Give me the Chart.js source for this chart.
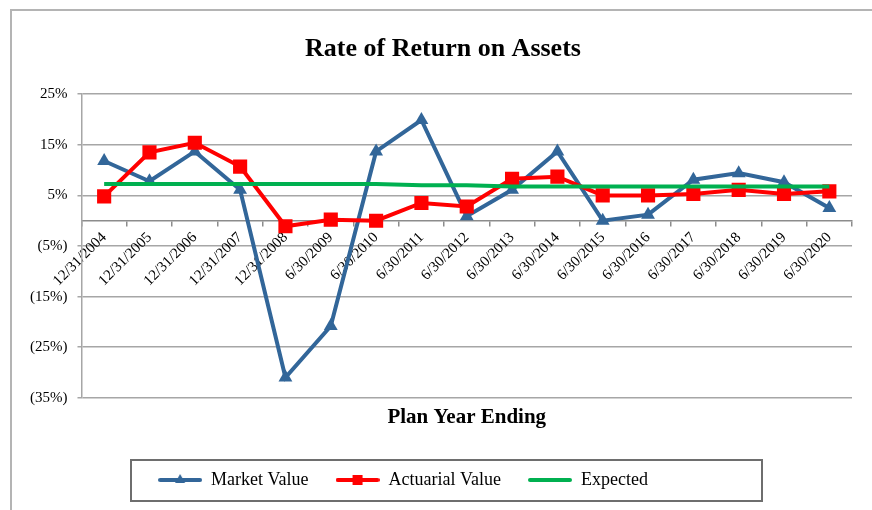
<!DOCTYPE html>
<html>
<head>
<meta charset="utf-8">
<title>Rate of Return on Assets</title>
<script src="https://cdn.jsdelivr.net/npm/chart.js@4/dist/chart.umd.min.js"></script>
<style>
    body { margin: 0; background: #fff; }
    #wrap { position: relative; width: 872px; height: 510px; }
    #frame {
        position: absolute; left: 10px; top: 9px; right: 0; bottom: 0;
        border-left: 2px solid #b4b4b4; border-top: 2px solid #b4b4b4;
    }
    #chart { position: absolute; left: 0; top: 0; }
</style>
</head>
<body>
<div id="wrap">
    <div id="frame"></div>
    <canvas id="chart" width="872" height="510"></canvas>
</div>
<script>
// Data (percent)
const planYears = ['12/31/2004', '12/31/2005', '12/31/2006', '12/31/2007', '12/31/2008',
    '6/30/2009', '6/30/2010', '6/30/2011', '6/30/2012', '6/30/2013', '6/30/2014',
    '6/30/2015', '6/30/2016', '6/30/2017', '6/30/2018', '6/30/2019', '6/30/2020'];
const marketValue = [11.8, 7.8, 13.7, 6.1, -31.0, -20.8, 13.7, 19.9, 0.9, 6.1, 13.7,
    0.0, 1.2, 8.1, 9.4, 7.6, 2.5];
const actuarialValue = [4.8, 13.5, 15.4, 10.7, -1.1, 0.2, 0.0, 3.5, 2.8, 8.3, 8.7,
    5.0, 5.0, 5.3, 6.1, 5.3, 5.8];
const expected = [7.25, 7.25, 7.25, 7.25, 7.25, 7.25, 7.25, 7.0, 7.0, 6.75, 6.75,
    6.75, 6.75, 6.75, 6.75, 6.75, 6.75];
const yMin = -35, yMax = 25, yStep = 10;

const BLUE = '#326699';
const RED = '#ff0000';
const GREEN = '#00b050';
const GRID = '#a6a6a6';
const SERIF = "'Liberation Serif', 'Times New Roman', serif";

// little line+marker pictures for the legend, like Excel does
function legendIcon(color, marker) {
    const c = document.createElement('canvas');
    c.width = 44; c.height = 16;
    const g = c.getContext('2d');
    g.strokeStyle = color; g.fillStyle = color;
    g.lineWidth = 4; g.lineCap = 'round';
    g.beginPath(); g.moveTo(2, 8); g.lineTo(42, 8); g.stroke();
    if (marker === 'triangle') {
        g.beginPath(); g.moveTo(22, 2); g.lineTo(27, 11); g.lineTo(17, 11); g.closePath(); g.fill();
    } else if (marker === 'rect') {
        g.fillRect(17, 3, 10, 10);
    }
    return c;
}
const icons = [legendIcon(BLUE, 'triangle'), legendIcon(RED, 'rect'), legendIcon(GREEN, null)];

// box round the legend; legend items sit a bit left of centre in the original
const legendBox = {
    id: 'legendBox',
    afterLayout(chart) {
        chart.legend.right -= 66;
        chart.titleBlock.left += 14;
    },
    afterDraw(chart) {
        const lg = chart.legend;
        const cy = lg.top + 27 + 9;
        const ctx = chart.ctx;
        ctx.save();
        ctx.strokeStyle = '#6e6e6e';
        ctx.lineWidth = 2;
        ctx.strokeRect(lg.left + 111, cy - 20, 631, 41);
        ctx.restore();
    }
};

const ctx = document.getElementById('chart').getContext('2d');
const chart = new Chart(ctx, {
    type: 'line',
    data: {
        labels: planYears,
        datasets: [{
            label: 'Market Value',
            data: marketValue,
            xAxisID: 'x',
            borderColor: BLUE,
            backgroundColor: BLUE,
            borderWidth: 4,
            pointStyle: 'triangle',
            pointRadius: 8,
            pointBorderWidth: 0,
            tension: 0,
            order: 3
        }, {
            label: 'Actuarial Value',
            data: actuarialValue,
            xAxisID: 'x',
            borderColor: RED,
            backgroundColor: RED,
            borderWidth: 4,
            pointStyle: 'rect',
            pointRadius: 10,
            pointBorderWidth: 0,
            tension: 0,
            order: 2
        }, {
            label: 'Expected',
            data: expected,
            xAxisID: 'x',
            borderColor: GREEN,
            backgroundColor: GREEN,
            borderWidth: 4,
            pointRadius: 0,
            tension: 0,
            order: 1
        }]
    },
    options: {
        responsive: false,
        animation: false,
        layout: { padding: { left: 20, right: 20, top: 0, bottom: 11 } },
        plugins: {
            tooltip: { enabled: false },
            title: {
                display: true,
                text: 'Rate of Return on Assets',
                color: '#000',
                font: { family: SERIF, size: 26, weight: 'bold' },
                padding: { top: 34, bottom: 29 }
            },
            legend: {
                position: 'bottom',
                labels: {
                    color: '#000',
                    font: { family: SERIF, size: 18 },
                    usePointStyle: true,
                    pointStyleWidth: 44,
                    padding: 27,
                    generateLabels(chart) {
                        const items = Chart.defaults.plugins.legend.labels.generateLabels(chart);
                        items.sort((a, b) => a.datasetIndex - b.datasetIndex);
                        items.forEach(it => { it.pointStyle = icons[it.datasetIndex]; });
                        return items;
                    }
                }
            }
        },
        scales: {
            x: {
                type: 'category',
                position: { y: 0 },
                offset: true,
                grid: {
                    offset: true,
                    drawOnChartArea: false,
                    drawTicks: true,
                    tickLength: 5,
                    color: '#8c8c8c',
                    lineWidth: 1.5
                },
                border: { display: true, color: '#8c8c8c', width: 1.5 },
                ticks: {
                    color: '#000',
                    font: { family: SERIF, size: 15 },
                    minRotation: 45,
                    maxRotation: 45,
                    autoSkip: false,
                    padding: 3
                }
            },
            x2: {
                type: 'category',
                position: 'bottom',
                grid: { display: false, drawTicks: false },
                border: { display: false },
                ticks: { display: false },
                title: {
                    display: true,
                    text: 'Plan Year Ending',
                    color: '#000',
                    font: { family: SERIF, size: 21, weight: 'bold' },
                    padding: { top: 7, bottom: 14 }
                }
            },
            y: {
                min: yMin,
                max: yMax,
                grid: { color: GRID, lineWidth: 1.5, tickLength: 4 },
                border: { display: true, color: GRID, width: 1.5 },
                ticks: {
                    stepSize: yStep,
                    padding: 10,
                    color: '#000',
                    font: { family: SERIF, size: 15 },
                    callback: v => v < 0 ? '(' + (-v) + '%)' : v + '%'
                }
            }
        }
    },
    plugins: [legendBox]
});
</script>
</body>
</html>
